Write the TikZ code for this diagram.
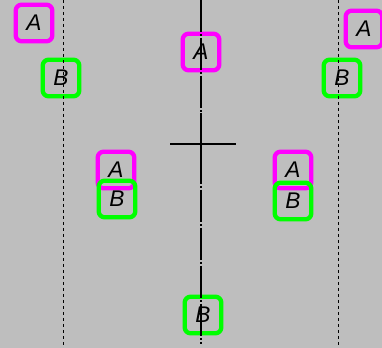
\documentclass[tikz,border=0pt]{standalone}
\usepackage{fontspec}
\setsansfont{Liberation Sans}
\definecolor{bg}{RGB}{190,190,190}
\definecolor{tagmag}{RGB}{255,0,255}
\definecolor{taggrn}{RGB}{0,255,0}
\begin{document}
\begin{tikzpicture}[x=0.75pt,y=-0.75pt,
	tag/.style={rounded corners=4.5pt, line width=3.2pt, minimum size=27.5pt, inner sep=0pt,
		font=\fontsize{17}{20}\selectfont\sffamily\itshape},
	taga/.style={tag, draw=tagmag},
	tagb/.style={tag, draw=taggrn},
	guide/.style={line width=0.6pt, dash pattern=on 2.25pt off 2.25pt},
	axis/.style={line width=1pt, dash pattern=on 24pt off 1.5pt on 1.5pt off 1.5pt}]
	\useasboundingbox (0,0) rectangle (382,348);
	\clip (0,0) rectangle (382,348);
	\fill[bg] (0,0) rectangle (382,348);
	\node[taga] at (34,23) (a1) {A};
	\node[tagb] at (61,78) (b1) {B};
	\node[taga] at (201,52) (a2) {A};
	\node[taga] at (364,29) (a3) {A};
	\node[tagb] at (342,78) (b3) {B};
	\node[taga] at (116,170) (a4) {A};
	\node[tagb] at (117,199) (b4) {B};
	\node[taga] at (293,170) (a5) {A};
	\node[tagb] at (293,201) (b5) {B};
	\node[tagb] at (203,315) (b2) {B};
	\draw[guide] (63,0) -- (63,348);
	\draw[guide] (338,0) -- (338,348);
	\draw[axis] (201,0) -- (201,344);
	\draw[line width=1.5pt] (170,144) -- (236,144)
	(201,113) -- (201,175);
\end{tikzpicture}
\end{document}
